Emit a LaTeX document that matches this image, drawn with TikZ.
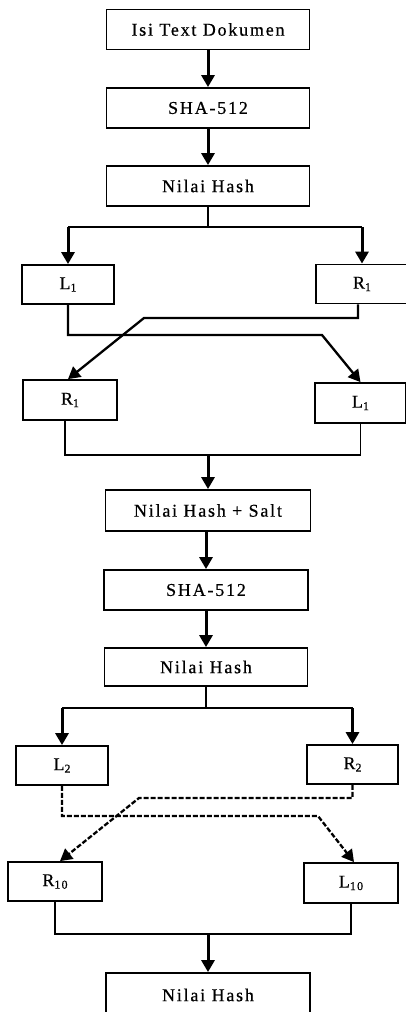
\documentclass[tikz,border=0pt]{standalone}
\usepackage{fontspec}
\setmainfont[LetterSpace=10,FakeBold=0.6]{Liberation Serif}
\usepackage{tikz}
\usetikzlibrary{arrows.meta,positioning,calc}
\newcommand{\lowidx}[1]{\raisebox{-2.5pt}{\fontsize{12}{12}\selectfont #1}}

\begin{document}
\begin{tikzpicture}[x=1pt, y=-1pt,
    every node/.style={font=\fontsize{18}{20}\selectfont},
    box/.style={draw, line width=1.8pt, minimum width=203pt, minimum height=40pt, inner sep=0pt},
    half/.style={draw, line width=1.8pt, minimum width=92pt, minimum height=39pt, inner sep=0pt},
    line/.style={line width=1.8pt},
    arr/.style={line width=3pt, -{Triangle[length=12pt,width=13pt]}},
    swap/.style={line width=2.3pt, -{Triangle[length=12pt,width=13pt]}},
    dswap/.style={swap, dash pattern=on 5pt off 2pt}]
            \useasboundingbox (0,0) rectangle (406,1012);
            % hashing
            \node[box] (Doc) at (208,29.5) {Isi Text Dokumen};
            \node[box] (Sha1) at (208,108) {SHA-512};
            \node[box] (Hash1) at (208,186) {Nilai Hash};
            \draw[arr] (Doc) -- (Sha1);
            \draw[arr] (Sha1) -- (Hash1);
            % first split
            \node[half] (L1) at (68,284.5) {L\lowidx{1}};
            \node[half] (R1) at (362,284) {R\lowidx{1}};
            \coordinate (S1) at (208,227);
            \draw[line] (Hash1.south) -- (S1);
            \draw[line] (L1.north |- S1) -- (R1.north |- S1);
            \draw[arr] (L1.north |- S1) -- (L1.north);
            \draw[arr] (R1.north |- S1) -- (R1.north);
            % swap
            \node[half, minimum width=94pt, minimum height=40pt] (R1s) at (70,400) {R\lowidx{1}};
            \node[half, minimum width=91pt, minimum height=40pt] (L1s) at (360.5,403) {L\lowidx{1}};
            \coordinate (A1) at (322,335);
            \coordinate (B1) at (144,318);
            \draw[swap] (L1.south) |- (A1) -- (L1s.north);
            \draw[swap] ([xshift=-4pt]R1.south) |- (B1) -- ([xshift=-2pt]R1s.north);
            % merge
            \coordinate (M1) at (208,455);
            \draw[line] ([xshift=-5pt]R1s.south) |- (M1) -| (L1s.south);
            \node[box, minimum width=205pt, minimum height=41pt] (Salt) at (208,510.5) {Nilai Hash + Salt};
            \draw[arr] (M1) -- (Salt);
            % second hashing
            \node[box, minimum width=204pt] (Sha2) at (206,590) {SHA-512};
            \node[box, minimum height=38pt] (Hash2) at (206,667) {Nilai Hash};
            \draw[arr] ([xshift=-2pt]Salt.south) -- (Sha2);
            \draw[arr] (Sha2) -- (Hash2);
            \node[half] (L2) at (62,765.5) {L\lowidx{2}};
            \node[half, minimum width=91pt] (R2) at (352.5,764.5) {R\lowidx{2}};
            \coordinate (S2) at (206,708);
            \draw[line] (Hash2.south) -- (S2);
            \draw[line] (L2.north |- S2) -- (R2.north |- S2);
            \draw[arr] (L2.north |- S2) -- (L2.north);
            \draw[arr] (R2.north |- S2) -- (R2.north);
            % rounds up to 10 (dashed)
            \node[half, minimum width=94pt] (R10) at (55,881.5) {R\lowidx{10}};
            \node[half, minimum width=94pt, minimum height=40pt] (L10) at (351,883) {L\lowidx{10}};
            \coordinate (A2) at (318,816);
            \coordinate (B2) at (139,798);
            \draw[dswap] (L2.south) |- (A2) -- ([xshift=3pt]L10.north);
            \draw[dswap] (R2.south) |- (B2) -- ([xshift=5pt]R10.north);
            % result
            \coordinate (M2) at (208,934);
            \draw[line] (R10.south) |- (M2) -| (L10.south);
            \node[box, minimum width=204pt, minimum height=44pt] (Hash3) at (208,995) {Nilai Hash};
            \draw[arr] (M2) -- (Hash3);
        \end{tikzpicture}
\end{document}
